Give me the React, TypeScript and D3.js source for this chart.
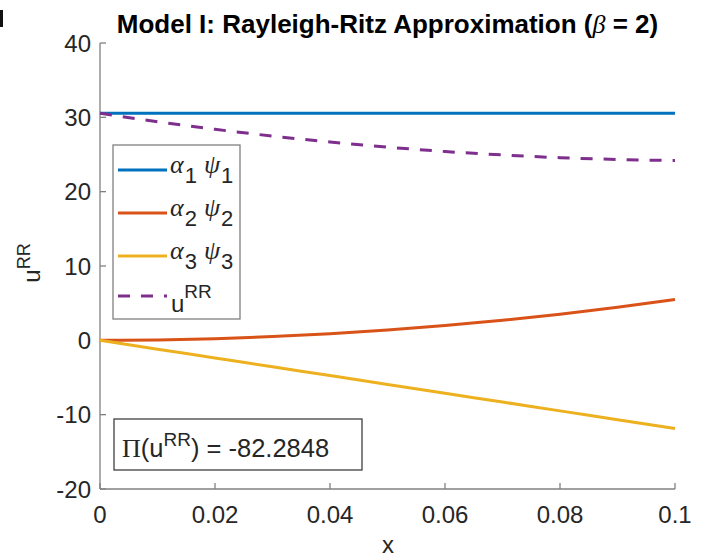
import React from 'react';
import * as d3 from 'd3';

// Sample positions along the bar (x) and the Rayleigh-Ritz terms read at each one
const xs = [0, 0.01, 0.02, 0.03, 0.04, 0.05, 0.06, 0.07, 0.08, 0.09, 0.1];
const term1 = [30.54, 30.54, 30.54, 30.54, 30.54, 30.54, 30.54, 30.54, 30.54, 30.54, 30.54];
const term2 = [0, 0.06, 0.22, 0.5, 0.88, 1.38, 1.98, 2.7, 3.52, 4.46, 5.5];
const term3 = [0, -1.19, -2.37, -3.56, -4.74, -5.93, -7.12, -8.3, -9.49, -10.67, -11.86];
const uRR = [30.54, 29.41, 28.39, 27.48, 26.68, 25.99, 25.4, 24.94, 24.57, 24.33, 24.18];

const xTicks = [0, 0.02, 0.04, 0.06, 0.08, 0.1];
const xTickLabels = ['0', '0.02', '0.04', '0.06', '0.08', '0.1'];
const yTicks = [-20, -10, 0, 10, 20, 30, 40];
const potentialEnergy = '-82.2848';

const W = 703;
const H = 559;
const left = 100;
const right = 675;
const top = 43;
const bottom = 489;

const SANS = '"Liberation Sans", Arial, Helvetica, sans-serif';
const SERIF = '"Liberation Serif", "Times New Roman", serif';
const AXIS = '#808080';
const TEXT = '#262626';

const series = [
  { values: term1, color: '#0072BD', dash: null, idx: '1' },
  { values: term2, color: '#D95319', dash: null, idx: '2' },
  { values: term3, color: '#EDB120', dash: null, idx: '3' },
  { values: uRR, color: '#7E2F8E', dash: '12,11', idx: null },
];

export default function App() {
  const x = d3.scaleLinear().domain([0, 0.1]).range([left, right]);
  const y = d3.scaleLinear().domain([-20, 40]).range([bottom, top]);
  const line = d3
    .line<number>()
    .x((_, i) => x(xs[i]))
    .y((d) => y(d))
    .curve(d3.curveMonotoneX);

  const legendX = 113;
  const legendY = 145;
  const legendW = 127;
  const legendH = 174;
  const rowY = [170, 213, 256, 296];

  return (
    <svg
      width={W}
      height={H}
      viewBox={`0 0 ${W} ${H}`}
      style={{ position: 'absolute', left: 0, top: 0, background: '#fff' }}
      fontFamily={SANS}
    >
      <rect x={0} y={0} width={W} height={H} fill="#fff" />

      {/* panel letter fragment */}
      <rect x={0} y={10} width={3} height={17} fill="#111" />

      {/* title */}
      <text x={(left + right) / 2} y={33} textAnchor="middle" fontSize={26} fontWeight="bold" fill="#000">
        Model I: Rayleigh-Ritz Approximation (
        <tspan fontFamily={SERIF} fontStyle="italic" fontWeight="normal">β</tspan>
        {' = 2)'}
      </text>

      {/* axes */}
      <line x1={left} y1={top} x2={left} y2={bottom} stroke={AXIS} strokeWidth={1.3} />
      <line x1={left} y1={bottom} x2={right} y2={bottom} stroke={AXIS} strokeWidth={1.3} />
      {yTicks.map((t) => (
        <g key={'y' + t}>
          <line x1={left} x2={left + 6} y1={y(t)} y2={y(t)} stroke={AXIS} strokeWidth={1.3} />
          <text x={91} y={y(t)} dy="0.36em" textAnchor="end" fontSize={24} fill={TEXT}>
            {t}
          </text>
        </g>
      ))}
      {xTicks.map((t, i) => (
        <g key={'x' + t}>
          <line x1={x(t)} x2={x(t)} y1={bottom} y2={bottom - 6} stroke={AXIS} strokeWidth={1.3} />
          <text x={x(t)} y={523} textAnchor="middle" fontSize={24} fill={TEXT}>
            {xTickLabels[i]}
          </text>
        </g>
      ))}

      {/* axis labels */}
      <text x={388} y={553} textAnchor="middle" fontSize={24} fill={TEXT}>x</text>
      <text transform="translate(40,263) rotate(-90)" textAnchor="middle" fontSize={24} fill={TEXT}>
        u<tspan dy={-10} fontSize={18}>RR</tspan>
      </text>

      {/* curves */}
      {series.map((s, i) => (
        <path
          key={'s' + i}
          d={line(s.values) || ''}
          fill="none"
          stroke={s.color}
          strokeWidth={3}
          strokeDasharray={s.dash || undefined}
        />
      ))}

      {/* legend */}
      <rect x={legendX} y={legendY} width={legendW} height={legendH} fill="#fff" stroke={AXIS} strokeWidth={1.3} />
      {series.map((s, i) => (
        <g key={'l' + i}>
          <line
            x1={118}
            x2={167}
            y1={rowY[i]}
            y2={rowY[i]}
            stroke={s.color}
            strokeWidth={3}
            strokeDasharray={s.dash || undefined}
          />
          {s.idx ? (
            <text x={170} y={rowY[i] + 3} fontSize={26} fill={TEXT}>
              <tspan fontFamily={SERIF} fontStyle="italic">α</tspan>
              <tspan dy={10} dx={1} fontSize={22}>{s.idx}</tspan>
              <tspan dy={-10} dx={7} fontFamily={SERIF} fontStyle="italic">ψ</tspan>
              <tspan dy={10} dx={1} fontSize={22}>{s.idx}</tspan>
            </text>
          ) : (
            <text x={171} y={rowY[i] + 16} fontSize={24} fill={TEXT}>
              u<tspan dy={-14} fontSize={19}>RR</tspan>
            </text>
          )}
        </g>
      ))}

      {/* total potential energy box */}
      <rect x={114} y={419} width={248} height={51} fill="#fff" stroke="#404040" strokeWidth={1.3} />
      <text x={122} y={457} fontSize={25.5} fill={TEXT}>
        <tspan fontFamily={SERIF} fontSize={26}>Π</tspan>
        (u<tspan dy={-11} fontSize={19}>RR</tspan>
        <tspan dy={11}>{') = ' + potentialEnergy}</tspan>
      </text>
    </svg>
  );
}
